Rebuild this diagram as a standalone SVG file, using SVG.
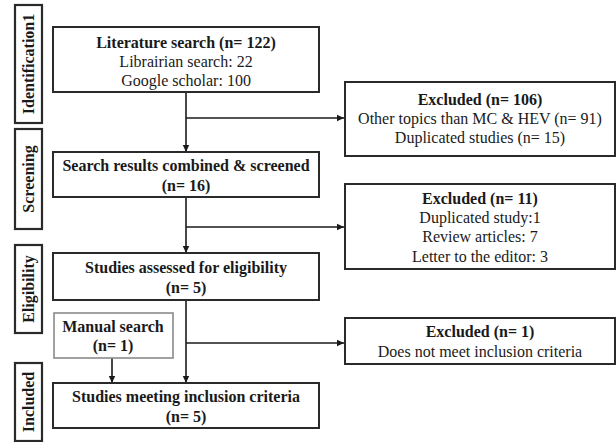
<svg xmlns="http://www.w3.org/2000/svg" width="616" height="442" viewBox="0 0 616 442">
<defs>
<marker id="ah" markerWidth="8" markerHeight="8" refX="7" refY="4" orient="auto" markerUnits="userSpaceOnUse">
<path d="M0,0.8 L7,4 L0,7.2 Z" fill="#1a1a1a"/>
</marker>
<style>
.box{fill:#fff;stroke:#2a2a2a;stroke-width:2}
.gbox{fill:#fff;stroke:#8a8a8a;stroke-width:1.6}
.lbl{fill:#fff;stroke:#2a2a2a;stroke-width:2.2}
text{font-family:'Liberation Serif',serif;font-size:16px;fill:#1a1a1a;text-anchor:middle}
.b{font-weight:bold}
.ln{fill:none;stroke:#1a1a1a;stroke-width:1.6}
</style>
</defs>
<rect width="616" height="442" fill="#fff"/>
<g font-family="Liberation Serif, serif">

<g id="stage-identification">
<rect class="lbl" x="15" y="5" width="27" height="118"/>
<text class="b" transform="translate(34,64) rotate(-90)">Identification1</text>
</g>
<g id="stage-screening">
<rect class="lbl" x="15" y="129" width="27" height="100"/>
<text class="b" transform="translate(34,179) rotate(-90)">Screening</text>
</g>
<g id="stage-eligibility">
<rect class="lbl" x="15" y="245" width="27" height="88"/>
<text class="b" transform="translate(34,289) rotate(-90)">Eligibility</text>
</g>
<g id="stage-included">
<rect class="lbl" x="15" y="363" width="27" height="78"/>
<text class="b" transform="translate(34,402) rotate(-90)">Included</text>
</g>

<g id="connectors">
<line class="ln" x1="186" y1="92" x2="186" y2="152" marker-end="url(#ah)"/>
<line class="ln" x1="186" y1="118" x2="344" y2="118" marker-end="url(#ah)"/>
<line class="ln" x1="186" y1="197" x2="186" y2="253" marker-end="url(#ah)"/>
<line class="ln" x1="186" y1="227" x2="344" y2="227" marker-end="url(#ah)"/>
<line class="ln" x1="186" y1="300" x2="186" y2="383" marker-end="url(#ah)"/>
<line class="ln" x1="186" y1="343" x2="344" y2="343" marker-end="url(#ah)"/>
<line class="ln" x1="112" y1="358" x2="112" y2="383" marker-end="url(#ah)"/>
</g>

<g id="literature-search">
<rect class="box" x="53" y="27" width="266" height="65"/>
<text class="b" x="186" y="48">Literature search (n= 122)</text>
<text x="186" y="67">Librairian search: 22</text>
<text x="186" y="86">Google scholar: 100</text>
</g>

<g id="excluded-106">
<rect class="box" x="345" y="82" width="270" height="74"/>
<text class="b" x="480" y="105">Excluded  (n= 106)</text>
<text x="480" y="124">Other topics than MC &amp; HEV (n= 91)</text>
<text x="480" y="143">Duplicated studies (n= 15)</text>
</g>

<g id="screened">
<rect class="box" x="53" y="152" width="266" height="45"/>
<text class="b" x="186" y="171">Search results combined &amp; screened</text>
<text class="b" x="186" y="191">(n= 16)</text>
</g>

<g id="excluded-11">
<rect class="box" x="345" y="184" width="270" height="85"/>
<text class="b" x="480" y="204">Excluded (n= 11)</text>
<text x="480" y="223">Duplicated study:1</text>
<text x="480" y="242">Review articles: 7</text>
<text x="480" y="262">Letter to the editor: 3</text>
</g>

<g id="eligibility">
<rect class="box" x="53" y="253" width="266" height="47"/>
<text class="b" x="186" y="273">Studies assessed for eligibility</text>
<text class="b" x="186" y="293">(n= 5)</text>
</g>

<g id="manual-search">
<rect class="gbox" x="54" y="313" width="119" height="45"/>
<text class="b" x="113" y="332">Manual search</text>
<text class="b" x="113" y="351">(n= 1)</text>
</g>

<g id="excluded-1">
<rect class="box" x="345" y="318" width="270" height="46"/>
<text class="b" x="480" y="337">Excluded (n= 1)</text>
<text x="480" y="357">Does not meet inclusion criteria</text>
</g>

<g id="included">
<rect class="box" x="53" y="383" width="266" height="45"/>
<text class="b" x="186" y="402">Studies meeting inclusion criteria</text>
<text class="b" x="186" y="422">(n= 5)</text>
</g>
</g>
</svg>
